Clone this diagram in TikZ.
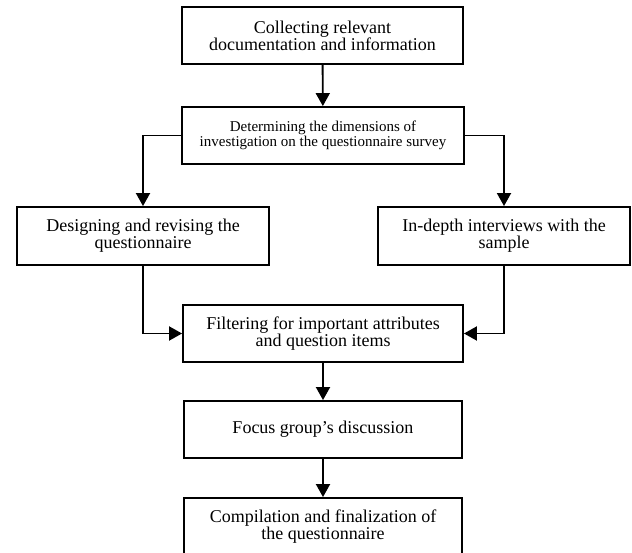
\documentclass[tikz,border=0pt]{standalone}
\usepackage{fontspec}
\setmainfont{Liberation Serif}
\usetikzlibrary{arrows.meta}
\begin{document}
\begin{tikzpicture}[x=1pt,y=1pt,
  box/.style={draw, line width=1.9pt, minimum height=57pt, align=center, inner sep=2pt,
    font=\fontsize{18}{17}\selectfont},
  conn/.style={line width=1.9pt, -{Triangle[length=13pt,width=14pt]}}]
\useasboundingbox (0,0) rectangle (632,-553);
\clip (0,0) rectangle (632,-553);
\node[box, minimum width=281pt] (b1) at (322.5,-35.5) {Collecting relevant\\documentation and information};
\node[box, minimum width=282pt, font=\fontsize{15}{15.5}\selectfont] (b2) at (323,-135.5) {Determining the dimensions of\\investigation on the questionnaire survey};
\node[box, minimum width=252pt, minimum height=58pt] (b3) at (143,-236) {Designing and revising the\\questionnaire};
\node[box, minimum width=252pt, minimum height=58pt] (b4) at (504,-236) {In-depth interviews with the\\sample};
\node[box, minimum width=280pt] (b5) at (323,-333.5) {Filtering for important attributes\\and question items};
\node[box, minimum width=278pt] (b6) at (323,-429.5) {Focus group’s discussion};
\node[box, minimum width=278pt, minimum height=58pt] (b7) at (323,-527) {Compilation and finalization of\\the questionnaire};
\draw[conn] (b1) -- (b2);
\draw[conn] (b2.west) -| (b3.north);
\draw[conn] (b2.east) -| (b4.north);
\draw[conn] (b3.south) |- (b5.west);
\draw[conn] (b4.south) |- (b5.east);
\draw[conn] (b5) -- (b6);
\draw[conn] (b6) -- (b7);
\end{tikzpicture}
\end{document}
